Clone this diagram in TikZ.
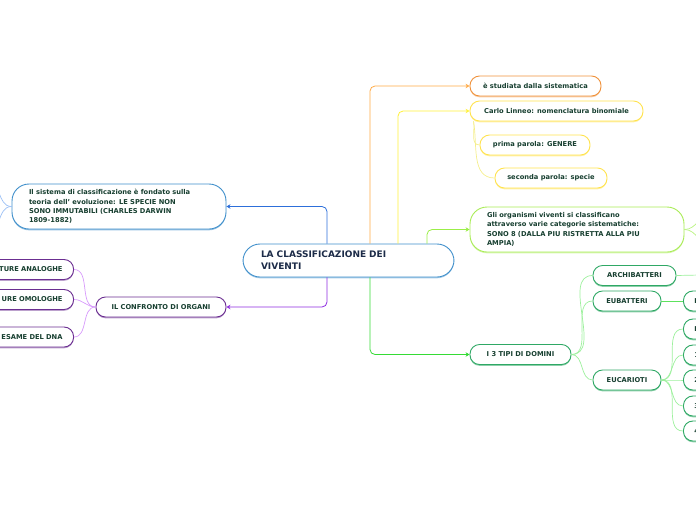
\documentclass[tikz,border=0pt]{standalone}
\usepackage{fontspec}
\setmainfont{DejaVu Sans}
\usetikzlibrary{arrows.meta,positioning,shadows}
\definecolor{txt}{HTML}{173F30}
\definecolor{navy}{HTML}{1C2B48}
\definecolor{bluebd}{HTML}{3F8FCB}
\definecolor{blueln}{HTML}{2D6FDA}
\definecolor{bluelt}{HTML}{9CC0F5}
\definecolor{purpbd}{HTML}{6B2E91}
\definecolor{purpln}{HTML}{8E2BE0}
\definecolor{purplt}{HTML}{D79AFB}
\definecolor{orbd}{HTML}{F0923C}
\definecolor{orln}{HTML}{FFAA44}
\definecolor{yelbd}{HTML}{FFE34F}
\definecolor{yelln}{HTML}{FFF13A}
\definecolor{yellt}{HTML}{F5EE8C}
\definecolor{chbd}{HTML}{A9EC55}
\definecolor{chln}{HTML}{9BEE48}
\definecolor{grbd}{HTML}{2FA865}
\definecolor{grln}{HTML}{35DB35}
\definecolor{grlt}{HTML}{9DF09D}

\begin{document}
\begin{tikzpicture}[x=1pt, y=-1pt,
  font=\fontsize{6.7}{9.4}\selectfont\bfseries,
  box/.style={draw, fill=white, line width=0.9pt, rounded corners=9.5pt, minimum height=20pt,
    inner xsep=10pt, inner ysep=2pt, text=txt},
  big/.style={box, rounded corners=17pt, align=left, inner xsep=17pt, text width=180pt},
  sh/.style={drop shadow={shadow xshift=0pt, shadow yshift=-1.3pt, fill=#1, opacity=1}},
  arr/.style={-{Stealth[length=4pt, width=4.5pt]}, line width=0.8pt, rounded corners=5pt},
  twig/.style={line width=0.7pt}
]
\useasboundingbox (0,0) rectangle (696,520);
\clip (0,0) rectangle (696,520);

\node[big, draw=bluebd, sh=bluebd!45, minimum width=211pt, minimum height=33pt, inner xsep=18pt,
  text width=175pt, text=navy, font=\fontsize{9}{12}\selectfont\bfseries] (root) at (348.5,260.5)
  {LA CLASSIFICAZIONE DEI\\VIVENTI};

\node[big, draw=bluebd, sh=bluebd!55, minimum height=45pt] (darwin) at (119,206.5)
  {Il sistema di classificazione è fondato sulla\\teoria dell' evoluzione: LE SPECIE NON\\SONO IMMUTABILI (CHARLES DARWIN\\1809-1882)};
\node[box, draw=purpbd, sh=purpbd!45, minimum width=130pt] (confronto) at (161,307) {IL CONFRONTO DI ORGANI};
\node[box, draw=purpbd, sh=purpbd!45, anchor=east, text width=90pt, align=right, inner xsep=11pt] (analoghe) at (74,269.5) {TURE ANALOGHE};
\node[box, draw=purpbd, sh=purpbd!45, anchor=east, text width=90pt, align=right, inner xsep=11pt] (omologhe) at (74,299.5) {URE OMOLOGHE};
\node[box, draw=purpbd, sh=purpbd!45, anchor=east, text width=90pt, align=right, inner xsep=11pt] (dna) at (74,337) {ESAME DEL DNA};

\node[box, draw=orbd, sh=orbd!45, minimum width=131pt] (sist) at (535.5,86) {è studiata dalla sistematica};
\node[box, draw=yelbd, sh=yelbd!50, minimum width=173pt] (linneo) at (556.5,111) {Carlo Linneo: nomenclatura binomiale};
\node[box, draw=yelbd, sh=yelbd!50, minimum width=110pt] (genere) at (535,145) {prima parola: GENERE};
\node[box, draw=yelbd, sh=yelbd!50, minimum width=112pt] (specie) at (551,178) {seconda parola: specie};
\node[big, draw=chbd, sh=chbd!45, minimum height=45pt] (cat) at (577,229.5)
  {Gli organismi viventi si classificano\\attraverso varie categorie sistematiche:\\SONO 8 (DALLA PIU RISTRETTA ALLA PIU\\AMPIA)};

\node[box, draw=grbd, sh=grbd!55, minimum width=101pt] (domini) at (520.5,354.5) {I 3 TIPI DI DOMINI};
\node[box, draw=grbd, sh=grbd!55, minimum width=83pt] (archi) at (634.5,275.5) {ARCHIBATTERI};
\node[box, draw=grbd, sh=grbd!55, minimum width=68pt] (eubat) at (627,301) {EUBATTERI};
\node[box, draw=grbd, sh=grbd!55, minimum width=68pt] (eucar) at (627,380) {EUCARIOTI};
\node[box, draw=grbd, sh=grbd!55, anchor=west, text width=40pt, align=left, inner xsep=11pt] (bat) at (683,301) {B};
\foreach \i/\y/\t in {1/329/P, 2/355/1, 3/380/2, 4/406/3, 5/431/4}
  \node[box, draw=grbd, sh=grbd!55, anchor=west, text width=40pt, align=left, inner xsep=11pt] (k\i) at (683,\y) {\t};

\coordinate (dtop) at (-14,178);
\coordinate (dbot) at (-14,236);
\coordinate (ctop) at (712,214);
\coordinate (cbot) at (712,246);
\coordinate (archiend) at (700,275);

\draw[arr, blueln] ([xshift=-21.5pt]root.north) |- (darwin.east);
\draw[arr, purpln] ([xshift=-21.5pt]root.south) |- (confronto.east);
\draw[arr, orln] ([xshift=21.5pt]root.north) |- (sist.west);
\draw[arr, yelln] ([xshift=49.5pt]root.north) |- (linneo.west);
\draw[arr, chln] ([xshift=78.5pt]root.north) |- (cat.west);
\draw[arr, grln] ([xshift=21.5pt]root.south) |- (domini.west);

\draw[twig, bluelt] (darwin.west) to[out=180,in=0] (dtop);
\draw[twig, bluelt] (darwin.west) to[out=180,in=0] (dbot);
\draw[twig, purplt] (confronto.west) to[out=180,in=0] (analoghe.east);
\draw[twig, purplt] (confronto.west) to[out=180,in=0] (omologhe.east);
\draw[twig, purplt] (confronto.west) to[out=180,in=0] (dna.east);
\draw[twig, yellt] ([xshift=4pt]linneo.south west) to[out=-80,in=180] (genere.west);
\draw[twig, yellt] ([xshift=4pt]linneo.south west) to[out=-80,in=180] (specie.west);
\draw[twig, chln!70] (cat.east) to[out=0,in=180] (ctop);
\draw[twig, chln!70] (cat.east) to[out=0,in=180] (cbot);
\draw[twig, grlt] (domini.east) to[out=0,in=180] (archi.west);
\draw[twig, grlt] (domini.east) to[out=0,in=180] (eubat.west);
\draw[twig, grlt] (domini.east) to[out=0,in=180] (eucar.west);
\draw[twig, grlt] (archi.east) -- (archiend);
\draw[twig, grln!80] (eubat.east) -- (bat.west);
\foreach \i in {1,...,5}
  \draw[twig, grlt] (eucar.east) to[out=0,in=180] (k\i.west);
\end{tikzpicture}
\end{document}
